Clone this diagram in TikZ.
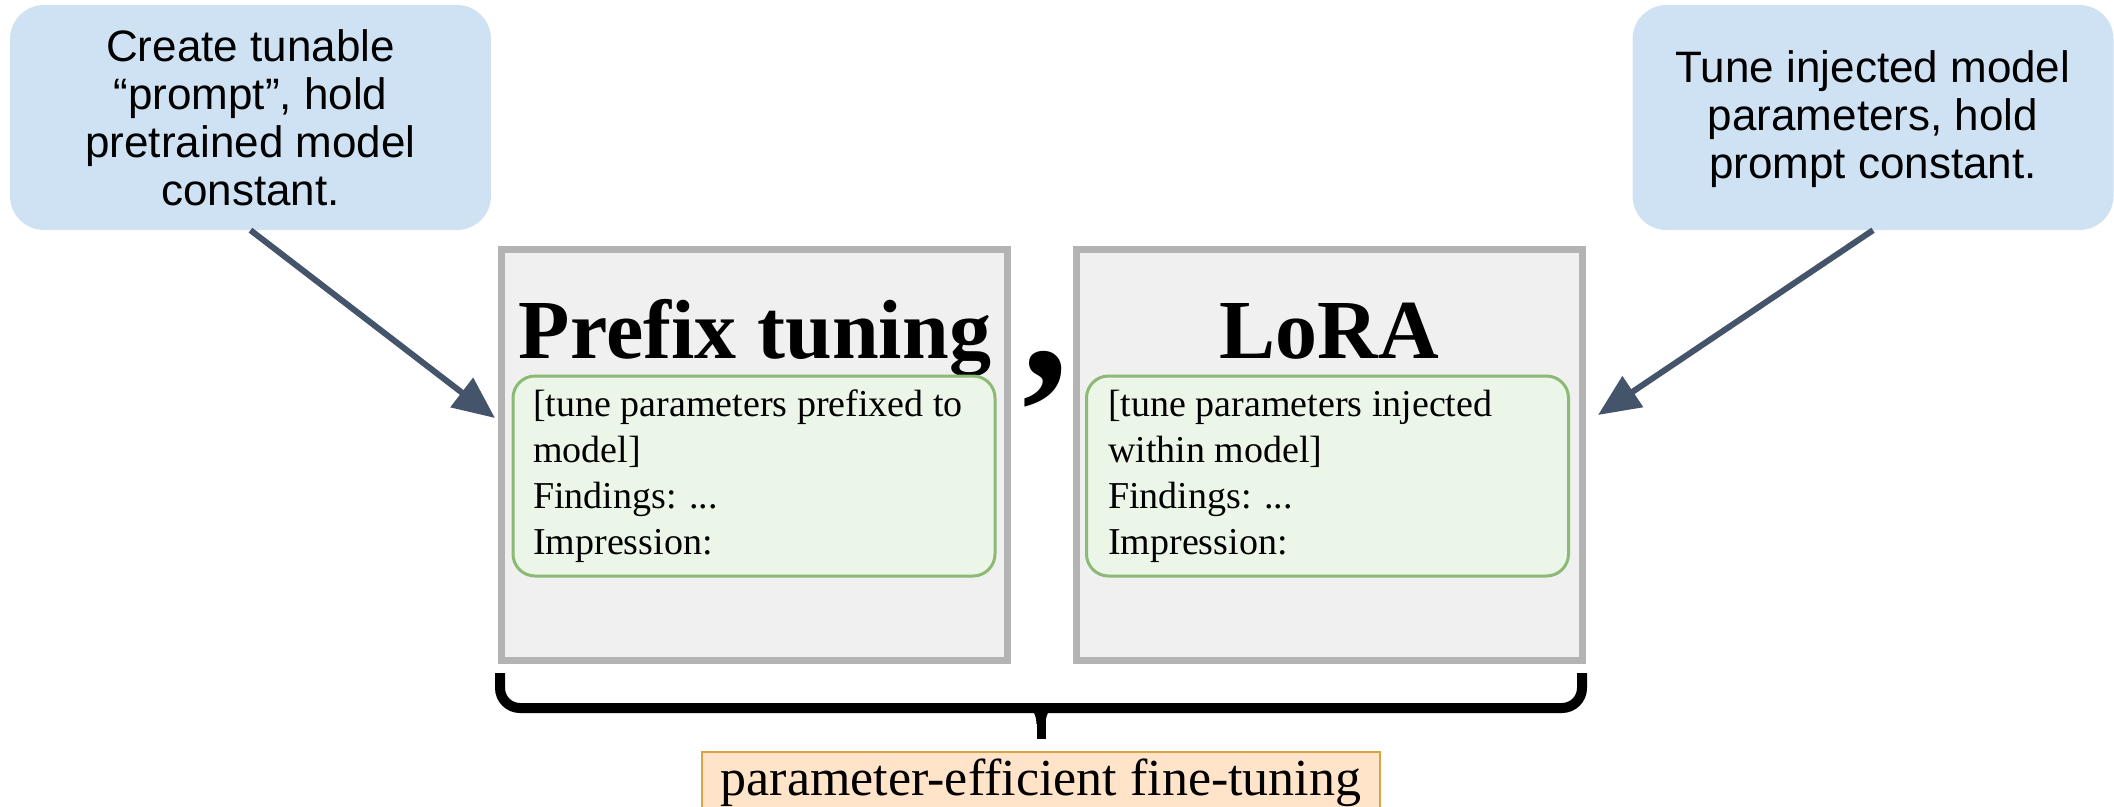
\documentclass[tikz,border=0pt]{standalone}
\usepackage{fontspec}
\setmainfont{Liberation Serif}
\newfontfamily\arialf{Liberation Sans}
\usetikzlibrary{arrows.meta}
\definecolor{callfill}{HTML}{CFE2F3}
\definecolor{arrowc}{HTML}{44546A}
\definecolor{grayfill}{HTML}{F0F0F0}
\definecolor{graydraw}{HTML}{B3B3B3}
\definecolor{greenfill}{HTML}{EBF6E8}
\definecolor{greendraw}{HTML}{8CBA74}
\definecolor{orangefill}{HTML}{FFE4C9}
\definecolor{orangedraw}{HTML}{D9A441}
\begin{document}
\begin{tikzpicture}[x=1pt,y=-1pt,
  callout/.style={fill=callfill, rounded corners=34pt, minimum width=481pt, minimum height=225pt, inner sep=0pt},
  calltext/.style={font=\arialf\fontsize{44}{48}\selectfont, align=center, inner sep=0pt, anchor=north},
  pointer/.style={draw=arrowc, line width=6pt, -{Triangle[length=42pt,width=36pt]}},
  panel/.style={draw=graydraw, fill=grayfill, line width=7pt, minimum width=506pt, minimum height=411pt, inner sep=0pt},
  paneltitle/.style={font=\bfseries\fontsize{84}{90}\selectfont, anchor=base, inner sep=0pt},
  promptbox/.style={draw=greendraw, fill=greenfill, line width=3pt, rounded corners=22pt, minimum width=482pt, minimum height=200pt, inner sep=0pt},
  prompttext/.style={font=\fontsize{38}{46}\selectfont, align=left, anchor=north west, inner sep=0pt},
  peftbox/.style={draw=orangedraw, fill=orangefill, line width=2pt, minimum width=678pt, anchor=north, inner xsep=0pt, inner ysep=7pt, text height=36pt, text depth=60pt, font=\fontsize{52}{60}\selectfont},
  bracepath/.style={draw=black, line width=10pt}
]
\path[use as bounding box] (0,0) rectangle (2114,806);
\clip (0,0) rectangle (2114,806);

% callouts
\node[callout] (callL) at (250.5,117.5) {};
\node[calltext] (callLt) at (250.5,27.4) {\strut Create tunable\\“prompt”, hold\\pretrained model\\constant.};
\node[callout] (callR) at (1873,117.5) {};
\node[calltext] (callRt) at (1873,48.4) {\strut Tune injected model\\parameters, hold\\prompt constant.};

% panels
\node[panel] (boxL) at (754,454.5) {};
\node[panel] (boxR) at (1329,454.5) {};
\node[paneltitle] (titleL) at (755,358) {Prefix tuning};
\node[paneltitle] (titleR) at (1329,358) {LoRA};
\node[font=\bfseries\fontsize{185}{190}\selectfont, anchor=base west, inner sep=0pt] (comma) at (1022,378) {,};

\node[promptbox] (gL) at (754,476) {};
\node[promptbox] (gR) at (1327.5,476) {};
\node[prompttext] (gLt) at (533,383.8) {\strut[tune parameters prefixed to\\model]\\Findings: ...\\Impression:};
\node[prompttext] (gRt) at (1108,383.8) {\strut[tune parameters injected\\within model]\\Findings: ...\\Impression:};

% arrows
\coordinate (tipL) at (495,418);
\coordinate (tipR) at (1598,415);
\draw[pointer] (callL.south) -- (tipL);
\draw[pointer] (callR.south) -- (tipR);

% brace
\coordinate (braceL) at (500,673);
\coordinate (braceR) at (1582,673);
\coordinate (braceM) at (1041,708);
\coordinate (braceTip) at (1041,739);
\draw[bracepath, rounded corners=20pt] (braceL) -- (500,708) -- (1582,708) -- (braceR);
\draw[bracepath, line width=9pt] (braceM) -- (braceTip);
\fill (1014,704) .. controls (1032,705) and (1036,712) .. (1036.5,724) -- (1045.5,724) .. controls (1046,712) and (1050,705) .. (1068,704) -- cycle;

% bottom label
\node[peftbox] (peft) at (1041,751) {parameter-efficient fine-tuning};
\end{tikzpicture}
\end{document}
